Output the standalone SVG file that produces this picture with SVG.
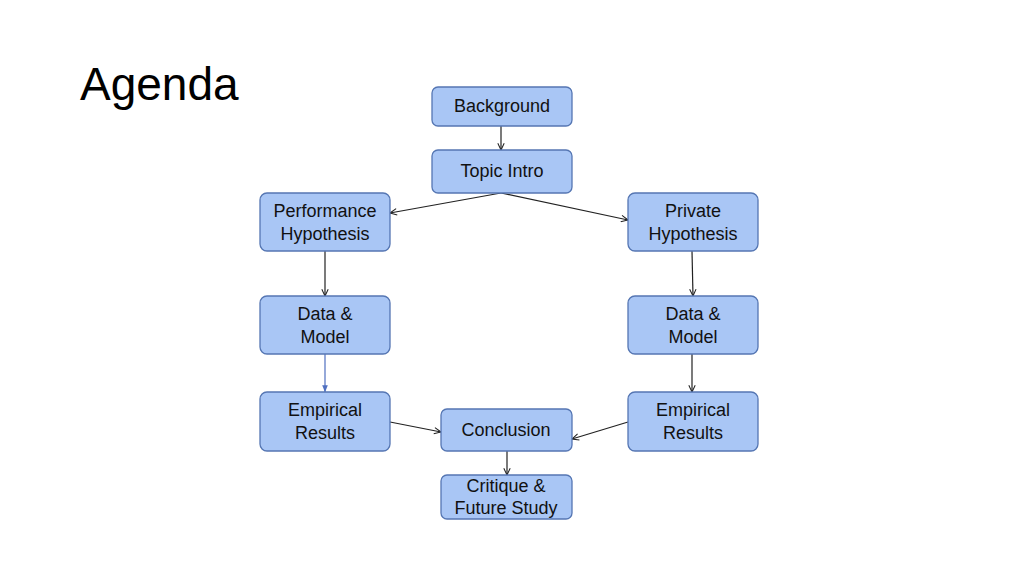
<svg xmlns="http://www.w3.org/2000/svg" width="1024" height="576" viewBox="0 0 1024 576">
<style>
.box{fill:#a9c6f5;stroke:#5576b3;stroke-width:1.3}
.t{font-family:"Liberation Sans",Arial,sans-serif;font-size:18px;fill:#111;text-anchor:middle}
.c{stroke:#222;stroke-width:1.2;fill:none;marker-end:url(#ah)}
.cb{stroke:#4f6fc0;stroke-width:1.2;fill:none;marker-end:url(#ahb)}
</style>
<defs>
<marker id="ah" viewBox="0 0 10 10" refX="9.5" refY="5" markerWidth="8" markerHeight="8" markerUnits="userSpaceOnUse" orient="auto">
<path d="M1,1 L9.5,5 L1,9" fill="none" stroke="#222" stroke-width="1.3"/>
</marker>
<marker id="ahb" viewBox="0 0 10 10" refX="9.5" refY="5" markerWidth="7" markerHeight="7" markerUnits="userSpaceOnUse" orient="auto">
<path d="M0,1 L10,5 L0,9 Z" fill="#4f6fc0"/>
</marker>
</defs>
<rect width="1024" height="576" fill="#fff"/>
<text x="80" y="100" font-family="Liberation Sans,Arial,sans-serif" font-size="46" fill="#000">Agenda</text>
<g id="connectors">
<path class="c" d="M501,126 L501,150"/>
<path class="c" d="M501,193 L390,213"/>
<path class="c" d="M501,193 L628,220"/>
<path class="c" d="M325,251 L325,296"/>
<path class="c" d="M692,251 L693,296"/>
<path class="cb" d="M325,354 L325,392"/>
<path class="c" d="M692,354 L692,392"/>
<path class="c" d="M390,422 L441,432"/>
<path class="c" d="M628,422 L572,439"/>
<path class="c" d="M507,451 L507,475"/>
</g>
<g id="background"><rect class="box" x="432" y="87" width="140" height="39" rx="6"/><text class="t" x="502" y="112">Background</text></g>
<g id="topic-intro"><rect class="box" x="432" y="150" width="140" height="43" rx="6"/><text class="t" x="502" y="177">Topic Intro</text></g>
<g id="performance-hypothesis"><rect class="box" x="260" y="193" width="130" height="58" rx="7"/><text class="t" x="325" y="217">Performance</text><text class="t" x="325" y="240">Hypothesis</text></g>
<g id="private-hypothesis"><rect class="box" x="628" y="193" width="130" height="58" rx="7"/><text class="t" x="693" y="217">Private</text><text class="t" x="693" y="240">Hypothesis</text></g>
<g id="data-model-left"><rect class="box" x="260" y="296" width="130" height="58" rx="7"/><text class="t" x="325" y="320">Data &amp;</text><text class="t" x="325" y="343">Model</text></g>
<g id="data-model-right"><rect class="box" x="628" y="296" width="130" height="58" rx="7"/><text class="t" x="693" y="320">Data &amp;</text><text class="t" x="693" y="343">Model</text></g>
<g id="empirical-left"><rect class="box" x="260" y="392" width="130" height="59" rx="7"/><text class="t" x="325" y="416">Empirical</text><text class="t" x="325" y="439">Results</text></g>
<g id="empirical-right"><rect class="box" x="628" y="392" width="130" height="59" rx="7"/><text class="t" x="693" y="416">Empirical</text><text class="t" x="693" y="439">Results</text></g>
<g id="conclusion"><rect class="box" x="441" y="409" width="131" height="42" rx="6"/><text class="t" x="506" y="436">Conclusion</text></g>
<g id="critique"><rect class="box" x="441" y="475" width="131" height="44" rx="6"/><text class="t" x="506" y="492">Critique &amp;</text><text class="t" x="506" y="514">Future Study</text></g>
</svg>
